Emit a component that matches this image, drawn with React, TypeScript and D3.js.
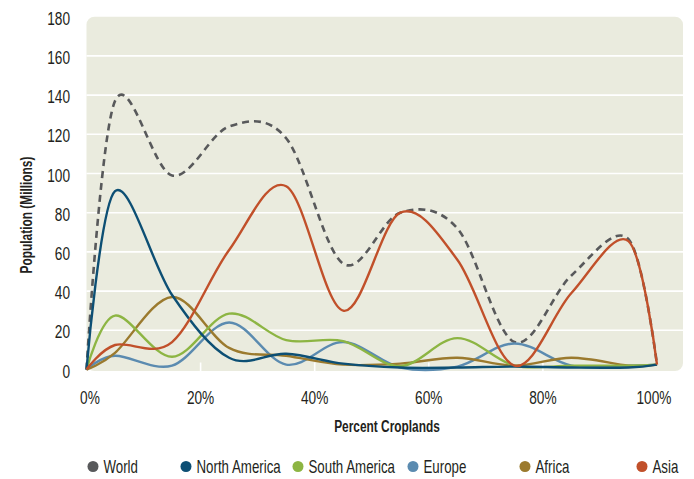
import React from "react";
import * as d3 from "d3";

const percents = [0, 5, 15, 25, 35, 45, 55, 65, 75, 85, 95, 100];
const world = [0, 137, 99, 124, 118, 54, 80, 72, 14, 48, 66.5, 2.5];
const northAmerica = [0, 91, 38, 6, 8, 3, 1, 1, 1.5, 1, 1, 2.5];
const southAmerica = [0, 27.5, 6.5, 28.5, 15, 14.5, 1.7, 16, 2, 2, 2, 2.5];
const europe = [0, 7, 2, 24, 2.5, 14, 1, 1.5, 13.3, 2, 2, 2.5];
const africa = [0, 8.5, 37, 11, 7, 2.5, 3, 6, 2, 6, 2, 2.5];
const asia = [0, 12.5, 14, 61, 93.5, 30, 80, 56, 2, 39, 65.5, 2.5];

const yTicks = [0, 20, 40, 60, 80, 100, 120, 140, 160, 180];
const xTicks = [0, 20, 40, 60, 80, 100];

const series = [
  { name: "World", values: world, color: "#58595b", dashed: true },
  { name: "North America", values: northAmerica, color: "#0d4f74", dashed: false },
  { name: "South America", values: southAmerica, color: "#8db543", dashed: false },
  { name: "Europe", values: europe, color: "#5b8bb0", dashed: false },
  { name: "Africa", values: africa, color: "#9b7a2e", dashed: false },
  { name: "Asia", values: asia, color: "#c1502a", dashed: false },
];

// legend dot positions
const legendX = [93, 186, 298, 413, 525, 642];

const W = 694;
const H = 479;
const font = "'Liberation Sans', Arial, sans-serif";
const ink = "#231f20";

// narrow text: Liberation Sans squeezed sideways to look like the condensed face
function Narrow(props: {
  x: number;
  y: number;
  size: number;
  anchor?: "start" | "middle" | "end";
  bold?: boolean;
  rotate?: boolean;
  squeeze?: number;
  children: React.ReactNode;
}) {
  const sq = props.squeeze ?? 0.76;
  const rot = props.rotate ? " rotate(-90)" : "";
  return (
    <text
      transform={`translate(${props.x},${props.y})${rot} scale(${sq},1)`}
      textAnchor={props.anchor || "start"}
      fontFamily={font}
      fontSize={props.size}
      fontWeight={props.bold ? "bold" : "normal"}
      fill={ink}
    >
      {props.children}
    </text>
  );
}

export default function App() {
  const x = d3.scaleLinear().domain([0, 100]).range([86.5, 657]);
  const y = d3.scaleLinear().domain([0, 180]).range([369.5, 16.7]);

  const line = d3
    .line<number>()
    .x((_, i) => x(percents[i]))
    .y((d) => y(d))
    .curve(d3.curveCardinal.tension(0));

  const bgLeft = x(0);
  const bgRight = 683;
  const bgTop = y(180);
  const bgBottom = y(0) + 1.5;

  const drawOrder = [series[0], series[3], series[4], series[2], series[1], series[5]];

  return (
    <svg width={W} height={H} style={{ position: "absolute", left: 0, top: 0 }}>
      <rect x={0} y={0} width={W} height={H} fill="#ffffff" />
      <rect
        x={bgLeft}
        y={bgTop}
        width={bgRight - bgLeft}
        height={bgBottom - bgTop}
        rx={8}
        fill="#eaebde"
      />
      {yTicks.slice(1, -1).map((t) => (
        <line key={t} x1={bgLeft} x2={bgRight} y1={y(t)} y2={y(t)} stroke="#ffffff" strokeWidth={1.6} />
      ))}
      {xTicks.slice(1, -1).map((t) => (
        <line key={t} x1={x(t)} x2={x(t)} y1={y(0) - 7} y2={y(0) + 1.5} stroke="#ffffff" strokeWidth={1.6} />
      ))}

      {drawOrder.map((s) => (
        <path
          key={s.name}
          d={line(s.values) || ""}
          fill="none"
          stroke={s.color}
          strokeWidth={s.dashed ? 2.6 : 2.4}
          strokeDasharray={s.dashed ? "7,5" : undefined}
          strokeLinejoin="round"
        />
      ))}

      {yTicks.map((t) => (
        <Narrow key={t} x={70} y={y(t) + 8} size={19} anchor="end" squeeze={0.72}>
          {t}
        </Narrow>
      ))}
      {xTicks.map((t) => (
        <Narrow
          key={t}
          x={x(t) + (t === 0 ? 3.5 : t === 100 ? -3 : 0)}
          y={404}
          size={19}
          anchor="middle"
          squeeze={0.72}
        >
          {t}%
        </Narrow>
      ))}

      <Narrow x={387} y={432} size={17} anchor="middle" bold squeeze={0.7}>
        Percent Croplands
      </Narrow>
      <Narrow x={32} y={215} size={17} anchor="middle" bold squeeze={0.7} rotate>
        Population (Millions)
      </Narrow>

      {series.map((s, i) => (
        <g key={s.name}>
          <circle cx={legendX[i]} cy={466.5} r={5.5} fill={s.color} />
          <Narrow x={legendX[i] + 10.5} y={472.8} size={17.5} squeeze={0.76}>
            {s.name}
          </Narrow>
        </g>
      ))}
    </svg>
  );
}
